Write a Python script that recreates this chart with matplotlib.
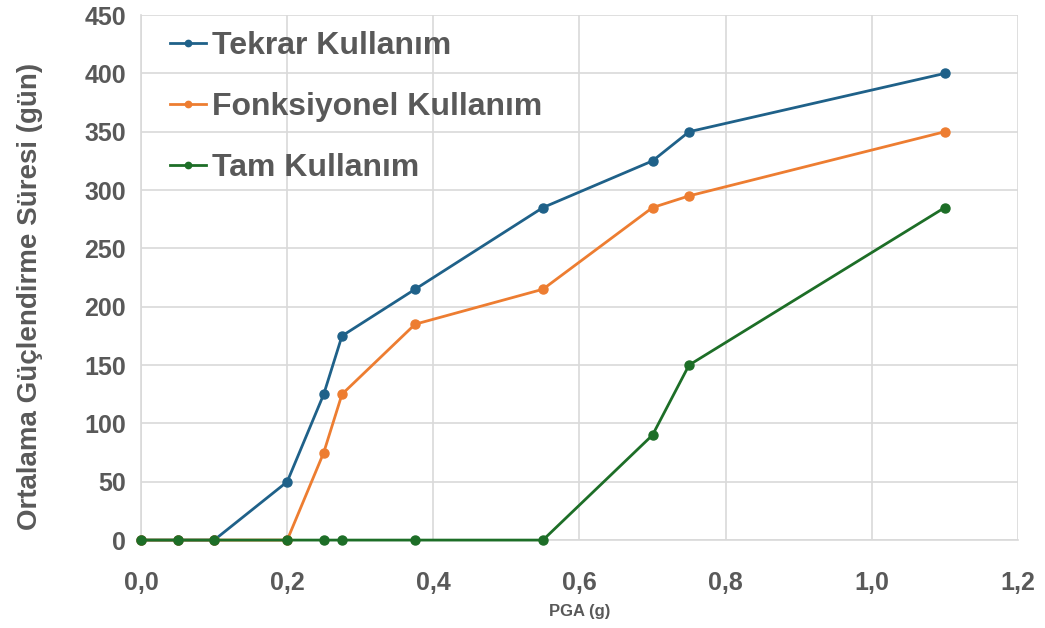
import matplotlib.pyplot as plt
import numpy as np

# veri
pga = [0.0, 0.05, 0.1, 0.2, 0.25, 0.275, 0.375, 0.55, 0.7, 0.75, 1.1]
tekrar = [0, 0, 0, 50, 125, 175, 215, 285, 325, 350, 400]
fonksiyonel = [0, 0, 0, 0, 75, 125, 185, 215, 285, 295, 350]
tam = [0, 0, 0, 0, 0, 0, 0, 0, 90, 150, 285]

series_names = ['Tekrar Kullanım', 'Fonksiyonel Kullanım', 'Tam Kullanım']
x_ticks = [0.0, 0.2, 0.4, 0.6, 0.8, 1.0, 1.2]
y_ticks = list(range(0, 451, 50))

plt.rcParams['font.family'] = ['Liberation Sans', 'DejaVu Sans']
plt.rcParams['font.weight'] = 'bold'
gray = '#595959'
grid_c = '#d9d9d9'

fig = plt.figure(figsize=(10.45, 6.28), dpi=100)
ax = fig.add_axes([0.135, 0.140, 0.839, 0.836])

colors = ['#1f6189', '#ed7d31', '#1d6e27']
for y, name, c in zip([tekrar, fonksiyonel, tam], series_names, colors):
    ax.plot(pga, y, '-o', color=c, lw=2.0, markersize=6.5, label=name,
            clip_on=False, zorder=3)

ax.set_xlim(0, 1.2)
ax.set_ylim(0, 450)
ax.set_xticks(x_ticks)
ax.set_xticklabels([('%.1f' % v).replace('.', ',') for v in x_ticks])
ax.set_yticks(y_ticks)
ax.grid(True, color=grid_c, lw=1.2)
ax.set_axisbelow(True)
for s in ['top', 'right']:
    ax.spines[s].set_visible(False)
for s in ['left', 'bottom']:
    ax.spines[s].set_color(grid_c)
    ax.spines[s].set_linewidth(1.2)
ax.tick_params(length=0, labelsize=18, labelcolor=gray)
ax.tick_params(axis='y', pad=11)
ax.tick_params(axis='x', pad=22)
for lab in ax.get_xticklabels() + ax.get_yticklabels():
    lab.set_fontweight('bold')

ax.set_xlabel('PGA (g)', fontsize=12, color=gray, fontweight='bold', labelpad=7)
ax.set_ylabel('Ortalama Güçlendirme Süresi (gün)', fontsize=20, color=gray,
              fontweight='bold')
ax.yaxis.set_label_coords(-0.112, 0.465)

leg = ax.legend(loc='upper left', frameon=False, fontsize=23, handlelength=1.1,
                handletextpad=0.2, labelspacing=0.97, borderaxespad=0.3,
                markerscale=0.7, bbox_to_anchor=(0.008, 1.012))
for t in leg.get_texts():
    t.set_color(gray)
    t.set_fontweight('bold')

fig.savefig('out.png', dpi=100)
